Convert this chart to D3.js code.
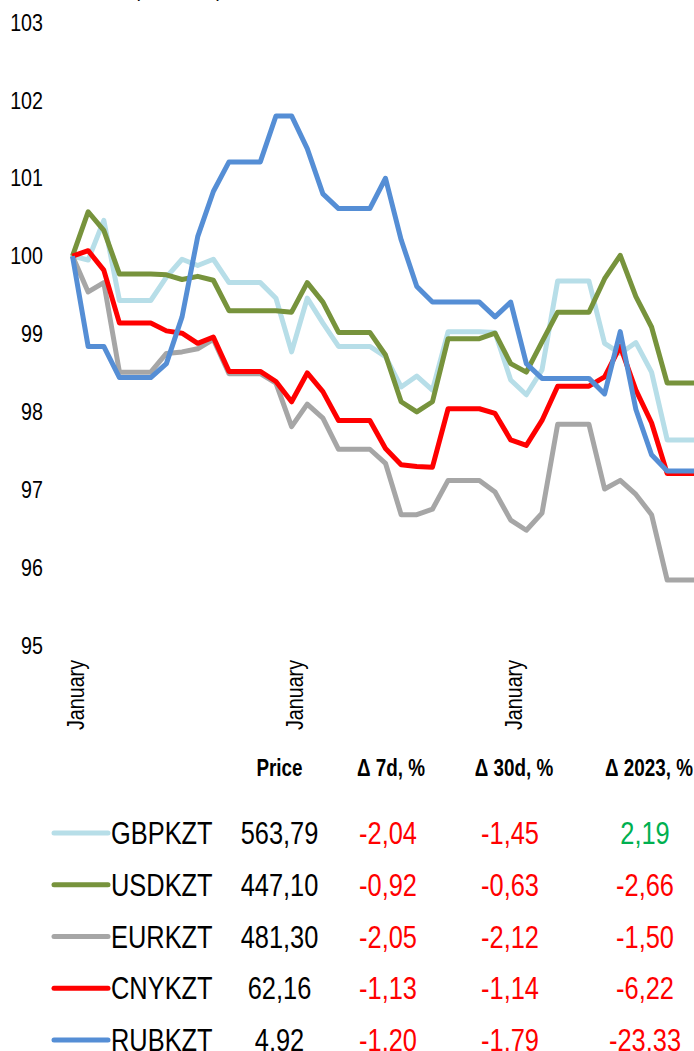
<!DOCTYPE html>
<html>
<head>
<meta charset="utf-8">
<script src="https://cdn.jsdelivr.net/npm/d3@7"></script>
<style>
  body { margin: 0; background: #fff; }
  svg { display: block; font-family: 'Liberation Sans', Arial, sans-serif; }
</style>
</head>
<body>
<svg id="chart"></svg>
<script>
var width = 694;
var height = 1051;
var squeeze = 0.82; // no Arial Narrow installed, so condense Liberation Sans

// Index values, one point per step, first point = 100
var pointIndex = d3.range(41);
var tickIndex = [0, 14, 28];
var tickLabels = ['January', 'January', 'January'];
var yTicks = [95, 96, 97, 98, 99, 100, 101, 102, 103];

var gbpkzt = [100.00, 99.95, 100.46, 99.43, 99.43, 99.43, 99.73, 99.96, 99.88, 99.96,
              99.66, 99.66, 99.66, 99.46, 98.77, 99.46, 99.14, 98.84, 98.84, 98.84,
              98.71, 98.32, 98.46, 98.28, 99.03, 99.03, 99.03, 99.02, 98.41, 98.22,
              98.54, 99.68, 99.68, 99.68, 98.88, 98.75, 98.89, 98.51, 97.64, 97.64, 97.64];
var usdkzt = [100.00, 100.57, 100.33, 99.77, 99.77, 99.77, 99.76, 99.70, 99.74, 99.69,
              99.30, 99.30, 99.30, 99.30, 99.28, 99.66, 99.41, 99.02, 99.02, 99.02,
              98.73, 98.13, 98.00, 98.13, 98.94, 98.94, 98.94, 99.01, 98.62, 98.51,
              98.90, 99.28, 99.28, 99.28, 99.71, 100.01, 99.48, 99.09, 98.37, 98.37, 98.37];
var eurkzt = [100.00, 99.54, 99.66, 98.51, 98.51, 98.51, 98.75, 98.77, 98.81, 98.93,
              98.49, 98.49, 98.49, 98.37, 97.81, 98.10, 97.92, 97.52, 97.52, 97.52,
              97.34, 96.68, 96.68, 96.75, 97.12, 97.12, 97.12, 96.97, 96.61, 96.48,
              96.70, 97.84, 97.84, 97.84, 97.01, 97.12, 96.94, 96.68, 95.84, 95.84, 95.84];
var cnykzt = [100.00, 100.07, 99.82, 99.14, 99.14, 99.14, 99.04, 99.01, 98.88, 98.96,
              98.52, 98.52, 98.52, 98.39, 98.13, 98.50, 98.26, 97.89, 97.89, 97.89,
              97.53, 97.32, 97.30, 97.29, 98.04, 98.04, 98.04, 97.98, 97.64, 97.57,
              97.89, 98.33, 98.33, 98.33, 98.45, 98.84, 98.28, 97.86, 97.21, 97.21, 97.21];
var rubkzt = [100.00, 98.84, 98.84, 98.44, 98.44, 98.44, 98.62, 99.22, 100.25, 100.83,
              101.21, 101.21, 101.21, 101.80, 101.80, 101.38, 100.80, 100.61, 100.61, 100.61,
              101.00, 100.21, 99.61, 99.41, 99.41, 99.41, 99.41, 99.22, 99.41, 98.62,
              98.43, 98.43, 98.43, 98.43, 98.23, 99.03, 98.03, 97.45, 97.24, 97.24, 97.24];

// Table below the chart
var names = ['GBPKZT', 'USDKZT', 'EURKZT', 'CNYKZT', 'RUBKZT'];
var prices = ['563,79', '447,10', '481,30', '62,16', '4,92'];
var change7d = [-2.04, -0.92, -2.05, -1.13, -1.20];
var change30d = [-1.45, -0.63, -2.12, -1.14, -1.79];
var change2023 = [2.19, -2.66, -1.50, -6.22, -23.33];
var headers = ['Price', '\u0394 7d, %', '\u0394 30d, %', '\u0394 2023, %'];
var colors = ['#b7dee8', '#77933c', '#a6a6a6', '#ff0000', '#558ed5'];

var series = [gbpkzt, usdkzt, eurkzt, cnykzt, rubkzt];

var svg = d3.select('#chart')
    .attr('width', width)
    .attr('height', height);

// place a condensed text at (x, y)
function narrowAt(x, y) {
    return 'translate(' + x + ',' + y + ') scale(' + squeeze + ',1)';
}

// Scales
var xScale = d3.scaleLinear()
    .domain([0, 40])
    .range([72.5, 72.5 + 40 * 15.65]);

var yScale = d3.scaleLinear()
    .domain([95, 103])
    .range([645.5, 22.5]);

// cut off title (only its lowest pixels show)
svg.append('text')
    .attr('transform', narrowAt(80, -4))
    .style('font-size', '24px')
    .text('Index (Jan=100)');

// Axes
var yAxis = d3.axisLeft(yScale)
    .tickValues(yTicks)
    .tickSize(0)
    .tickPadding(0)
    .tickFormat(d3.format('d'));

svg.append('g')
    .attr('transform', 'translate(43,0)')
    .call(yAxis)
    .call(g => g.select('.domain').remove())
    .call(g => g.attr('font-family', null))
    .selectAll('text')
        .attr('transform', 'scale(' + squeeze + ',1)')
        .style('font-size', '24px')
        .attr('fill', '#000');

var xAxis = d3.axisBottom(xScale)
    .tickValues(tickIndex)
    .tickSize(0)
    .tickFormat((d, i) => tickLabels[i]);

svg.append('g')
    .attr('transform', 'translate(0,660)')
    .call(xAxis)
    .call(g => g.select('.domain').remove())
    .call(g => g.attr('font-family', null))
    .selectAll('text')
        .attr('transform', 'rotate(-90) scale(' + squeeze + ',1)')
        .attr('x', 0)
        .attr('y', 11)
        .attr('dy', 0)
        .style('text-anchor', 'end')
        .style('font-size', '24px')
        .attr('fill', '#000');

// Lines
var line = d3.line()
    .x((d, i) => xScale(pointIndex[i]))
    .y(d => yScale(d));

svg.append('g')
    .selectAll('path')
    .data(series)
    .enter()
    .append('path')
        .attr('d', line)
        .attr('fill', 'none')
        .attr('stroke', (d, i) => colors[i])
        .attr('stroke-width', 5)
        .attr('stroke-linejoin', 'round');

// Table header
var colX = [279.5, 391, 514, 649];

svg.append('g')
    .selectAll('text')
    .data(headers)
    .enter()
    .append('text')
        .attr('transform', (d, i) => narrowAt(colX[i], 776))
        .style('text-anchor', 'middle')
        .style('font-size', '23px')
        .style('font-weight', 'bold')
        .text(d => d);

// Table rows
var rowY = d3.scaleLinear().domain([0, 4]).range([833, 1040]);
var fmt = v => d3.format('.2f')(v).replace('.', ',').replace('\u2212', '-');

var rows = svg.append('g')
    .selectAll('g')
    .data(names)
    .enter()
    .append('g')
        .attr('transform', (d, i) => 'translate(0,' + rowY(i) + ')');

rows.append('line')
    .attr('x1', 54)
    .attr('x2', 108)
    .attr('stroke', (d, i) => colors[i])
    .attr('stroke-width', 5)
    .attr('stroke-linecap', 'round');

rows.append('text')
    .attr('transform', narrowAt(111, 11))
    .style('font-size', '31px')
    .text(d => d);

rows.append('text')
    .attr('transform', narrowAt(colX[0], 11))
    .style('text-anchor', 'middle')
    .style('font-size', '31px')
    .text((d, i) => prices[i]);

var changeCols = [[change7d, 388], [change30d, 510], [change2023, 645]];

changeCols.forEach(function (c) {
    rows.append('text')
        .attr('transform', narrowAt(c[1], 11))
        .style('text-anchor', 'middle')
        .style('font-size', '31px')
        .attr('fill', (d, i) => c[0][i] >= 0 ? '#00b050' : '#ff0000')
        .text((d, i) => fmt(c[0][i]));
});
</script>
</body>
</html>
